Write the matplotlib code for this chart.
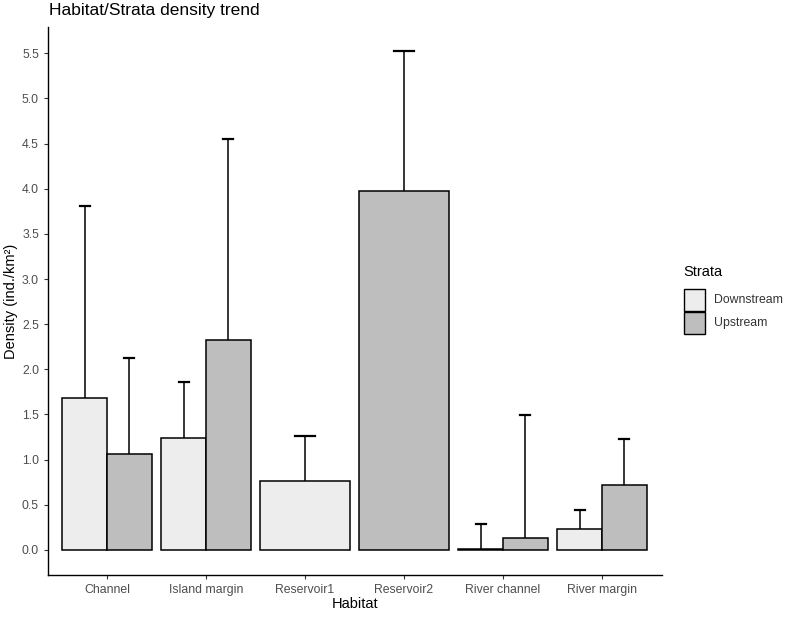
import numpy as np
import matplotlib
matplotlib.use("Agg")
import matplotlib.pyplot as plt

plt.rcParams["font.family"] = ["Liberation Sans", "DejaVu Sans"]

HABITATS = ["Channel", "Island margin", "Reservoir1", "Reservoir2", "River channel", "River margin"]
STRATA = ["Downstream", "Upstream"]
COLORS = {"Downstream": "#EDEDED", "Upstream": "#BEBEBE"}

# mean density and upper error bar end, nan = stratum not sampled
down_mean = [1.68, 1.24, 0.76, np.nan, 0.015, 0.23]
down_upper = [3.81, 1.86, 1.26, np.nan, 0.285, 0.44]
up_mean = [1.06, 2.32, np.nan, 3.97, 0.13, 0.72]
up_upper = [2.12, 4.55, np.nan, 5.52, 1.49, 1.23]

y_ticks = [0.0, 0.5, 1.0, 1.5, 2.0, 2.5, 3.0, 3.5, 4.0, 4.5, 5.0, 5.5]


def main() -> None:
    fig = plt.figure(figsize=(8.0, 6.18), dpi=100)
    ax = fig.add_axes([0.06, 0.0696, 0.7675, 0.8867])

    total_w = 0.9
    series = {"Downstream": (down_mean, down_upper), "Upstream": (up_mean, up_upper)}

    for i, hab in enumerate(HABITATS):
        xc = i + 1
        present = [s for s in STRATA if not np.isnan(series[s][0][i])]
        w = total_w / len(present)
        cap = 0.21 / len(present)
        for k, s in enumerate(present):
            mean = series[s][0][i]
            upper = series[s][1][i]
            x = xc - total_w / 2 + w * (k + 0.5)
            # errorbar stem drawn first so the bar hides its lower part
            ax.plot([x, x], [mean, upper], color="black", lw=1.1, zorder=1)
            ax.plot([x - cap / 2, x + cap / 2], [upper, upper], color="black", lw=1.6, zorder=1)
            ax.bar(x, mean, width=w, color=COLORS[s], edgecolor="black", linewidth=1.1, zorder=2)

    ax.set_xlim(0.404, 6.606)
    ax.set_ylim(-0.277, 5.79)
    ax.set_xticks(range(1, len(HABITATS) + 1))
    ax.set_xticklabels(HABITATS)
    ax.set_yticks(y_ticks)
    ax.set_yticklabels([f"{t:.1f}" for t in y_ticks])
    ax.tick_params(axis="both", labelsize=8.8, colors="#333333", labelcolor="#4D4D4D", length=3, width=0.8)
    for side in ["top", "right"]:
        ax.spines[side].set_visible(False)
    for side in ["left", "bottom"]:
        ax.spines[side].set_linewidth(1.0)

    ax.set_xlabel("Habitat", fontsize=10.5, labelpad=1)
    ax.set_ylabel("Density (ind./km²)", fontsize=10.5, labelpad=3)
    fig.text(49 / 800, 1 - 10 / 618, "Habitat/Strata density trend", fontsize=12.5, ha="left", va="center")

    # legend
    fig.text(683 / 800, 1 - 272 / 618, "Strata", fontsize=10.5, ha="left", va="center")
    for k, s in enumerate(STRATA):
        y0 = 1 - (311 + 23 * k) / 618
        fig.patches.append(plt.Rectangle((684 / 800, y0), 21 / 800, 22 / 618,
                                         transform=fig.transFigure, facecolor=COLORS[s],
                                         edgecolor="black", linewidth=1.0))
        fig.text(714 / 800, y0 + 11 / 618, s, fontsize=8.8, color="#333333", ha="left", va="center")

    fig.savefig("out.png", dpi=100)


if __name__ == "__main__":
    main()
